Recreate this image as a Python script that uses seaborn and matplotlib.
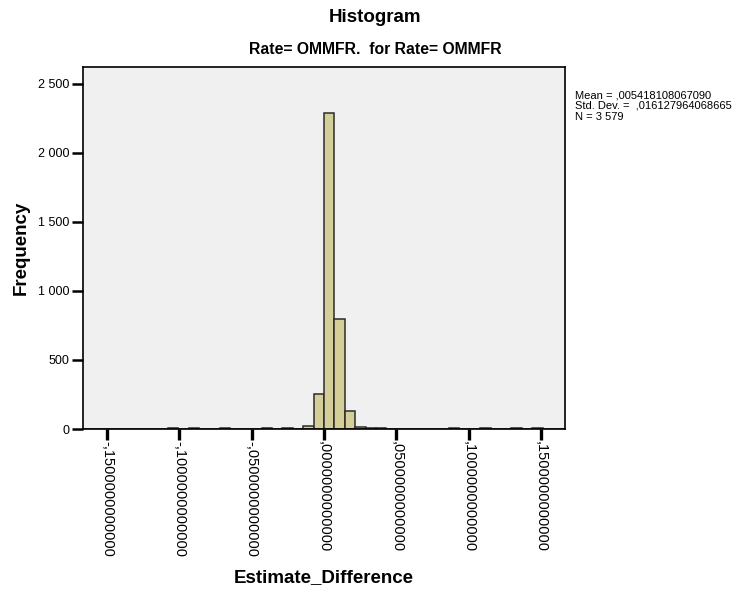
import numpy as np
import pandas as pd
import matplotlib
matplotlib.use("Agg")
import matplotlib.pyplot as plt
import seaborn as sns

# Histogram data: bin index (bin k spans [k*w, (k+1)*w]) and its frequency
bin_width = 0.0072
bin_index = [-15, -13, -10, -6, -4, -2, -1, 0, 1, 2, 3, 4, 5, 12, 15, 18, 20]
bin_count = [6, 7, 6, 7, 7, 25, 254, 2288, 795, 128, 12, 10, 8, 6, 7, 6, 7]

x_ticks = [-0.15, -0.10, -0.05, 0.0, 0.05, 0.10, 0.15]
y_ticks = [0, 500, 1000, 1500, 2000, 2500]
y_tick_labels = ["0", "500", "1 000", "1 500", "2 000", "2 500"]

stats_text = ["Mean = ,005418108067090",
              "Std. Dev. =  ,016127964068665",
              "N = 3 579"]

title = "Histogram"
subtitle = "Rate= OMMFR.  for Rate= OMMFR"
x_label = "Estimate_Difference"
y_label = "Frequency"

sns.set_theme(style="white")
plt.rcParams["font.family"] = ["Liberation Sans", "DejaVu Sans"]
plt.rcParams["text.color"] = "black"
plt.rcParams["axes.labelcolor"] = "black"
plt.rcParams["xtick.color"] = "black"
plt.rcParams["ytick.color"] = "black"

idx = np.array(bin_index)
df = pd.DataFrame({"value": (idx + 0.5) * bin_width,
                   "count": np.array(bin_count, dtype=float)})
edges = [float(k) * bin_width for k in range(-24, 25)]

fig = plt.figure(figsize=(7.37, 5.90), dpi=100)
ax = fig.add_axes([83 / 737, 1 - 429 / 590, (565 - 83) / 737, (429 - 66.7) / 590])
ax.set_facecolor("#f0f0f0")

sns.histplot(data=df, x="value", weights="count", bins=edges, ax=ax,
             color="#d4cf98", edgecolor="#2b2b2b", linewidth=1.1, alpha=1.0)

ax.set_xlim(-0.1667, 0.1667)
ax.set_ylim(0, 2625)

ax.set_xticks(x_ticks)
ax.set_xticklabels([f"{v:.13f}".replace("0.", ",", 1) for v in x_ticks],
                   rotation=-90, ha="center", va="top", fontsize=10.5)
ax.set_yticks(y_ticks)
ax.set_yticklabels(y_tick_labels, fontsize=9)
ax.tick_params(axis="x", bottom=True, direction="out", length=8, width=2.4,
               color="black", pad=0.5)
ax.tick_params(axis="y", left=True, direction="out", length=8, width=1.8,
               color="black", pad=2)

for side in ax.spines.values():
    side.set_color("black")
    side.set_linewidth(1.2)

ax.set_xlabel(x_label, fontsize=13.5, fontweight="bold", labelpad=9)
ax.set_ylabel(y_label, fontsize=13.5, fontweight="bold", labelpad=6)

fig.text(375 / 737, 1 - 18 / 590, title, ha="center", va="center",
         fontsize=13.5, fontweight="bold")
fig.text(375 / 737, 1 - 50 / 590, subtitle, ha="center", va="center",
         fontsize=11.3, fontweight="bold")
fig.text(575 / 737, 1 - 90 / 590, "\n".join(stats_text), ha="left", va="top",
         fontsize=8, linespacing=1.12)

fig.savefig("out.png", dpi=100)
